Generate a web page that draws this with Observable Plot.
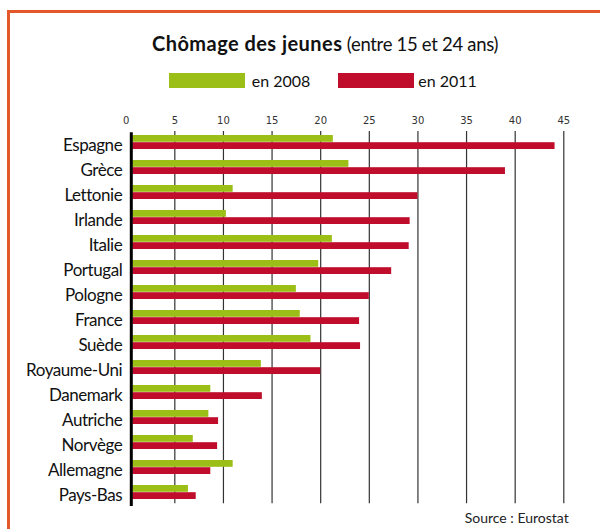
<!DOCTYPE html>
<html>
<head>
<meta charset="utf-8">
<script src="https://cdn.jsdelivr.net/npm/d3@7"></script>
<script src="https://cdn.jsdelivr.net/npm/@observablehq/plot@0.6"></script>
<style>
  html, body { margin: 0; padding: 0; background: #fff; }
  #wrap { position: relative; width: 600px; height: 529px; overflow: hidden; background: #fff; font-family: Lato, "Noto Sans", sans-serif; color: #111; }
  #frame { position: absolute; left: 7px; top: 10px; width: 700px; height: 700px; border-left: 3px solid #e3582b; border-top: 3px solid #e3582b; box-sizing: border-box; }
  .txt { position: absolute; white-space: nowrap; }
  #title { left: 152px; top: 34px; font-size: 18.5px; line-height: 19px; letter-spacing: -0.3px; }
  #title b { font-weight: 700; font-size: 20px; letter-spacing: 0.45px; }
  .sw { position: absolute; height: 14.5px; width: 75.5px; top: 73.3px; }
  .leg { font-size: 16px; line-height: 16px; top: 72.5px; }
  #source { right: 31.3px; top: 511px; font-size: 14px; line-height: 14px; color: #222; }
  #chart { position: absolute; left: 0; top: 100px; }
  #chart g[aria-label="y-axis tick label"] text { letter-spacing: -0.45px; }
</style>
</head>
<body>
<div id="wrap">
  <div id="frame"></div>
  <div id="title" class="txt"></div>
  <div id="sw1" class="sw" style="left:169px"></div>
  <div id="lg1" class="txt leg" style="left:251.7px"></div>
  <div id="sw2" class="sw" style="left:338px"></div>
  <div id="lg2" class="txt leg" style="left:418.3px"></div>
  <div id="chart"></div>
  <div id="source" class="txt"></div>
</div>
<script>
// ---- data ----
const countries = ["Espagne","Grèce","Lettonie","Irlande","Italie","Portugal","Pologne","France","Suède","Royaume-Uni","Danemark","Autriche","Norvège","Allemagne","Pays-Bas"];
const values2008 = [21.3, 22.9, 11.0, 10.3, 21.2, 19.8, 17.5, 17.9, 19.0, 13.9, 8.7, 8.5, 6.9, 11.0, 6.4];
const values2011 = [44.1, 39.0, 30.0, 29.2, 29.1, 27.3, 25.0, 24.0, 24.1, 20.0, 14.0, 9.5, 9.4, 8.7, 7.2];
const seriesLabels = ["en 2008", "en 2011"];
const xTickLabels = [0, 5, 10, 15, 20, 25, 30, 35, 40, 45];
const gridTicks = [5, 10, 15, 20, 25, 30, 35, 40, 45];
const titleBold = "Chômage des jeunes";
const titleRest = " (entre 15 et 24 ans)";
const sourceText = "Source : Eurostat";

const green = "#9bbf17";
const red = "#c00d2b";

// ---- text ----
document.getElementById("title").innerHTML = "<b>" + titleBold + "</b>" + titleRest;
document.getElementById("lg1").textContent = seriesLabels[0];
document.getElementById("lg2").textContent = seriesLabels[1];
document.getElementById("sw1").style.background = green;
document.getElementById("sw2").style.background = red;
document.getElementById("source").textContent = sourceText;

const table = countries.map((c, i) => ({country: c, v2008: values2008[i], v2011: values2011[i]}));

const half = 7.2;
const chart = Plot.plot({
  width: 600,
  height: 410,
  marginLeft: 125.7,
  marginRight: 36.7,
  marginTop: 31,
  marginBottom: 6.7,
  style: {fontFamily: "Lato, 'Noto Sans', sans-serif", background: "transparent"},
  x: {domain: [0, 45], axis: null},
  y: {domain: countries, paddingInner: 0.43, paddingOuter: 0.077, axis: null},
  marks: [
    Plot.ruleX(gridTicks, {stroke: "#333", strokeWidth: 1.2}),
    Plot.barX(table, {x: "v2008", y: "country", fill: green, insetBottom: half, insetLeft: 6.6}),
    Plot.barX(table, {x: "v2011", y: "country", fill: red, insetTop: half, insetLeft: 6.6}),
    Plot.ruleX([0], {stroke: "#000", strokeWidth: 3, dx: 5.1, insetTop: 1.3, insetBottom: -2.7}),
    Plot.axisX({anchor: "top", ticks: xTickLabels, tickSize: 0, tickPadding: 8, fontFamily: "DejaVu Sans", fontSize: 10, fill: "#333", label: null}),
    Plot.axisY({anchor: "left", tickSize: 0, tickPadding: 4, fontSize: 17, dy: 3, fill: "#111", label: null})
  ]
});
document.getElementById("chart").appendChild(chart);
</script>
</body>
</html>
